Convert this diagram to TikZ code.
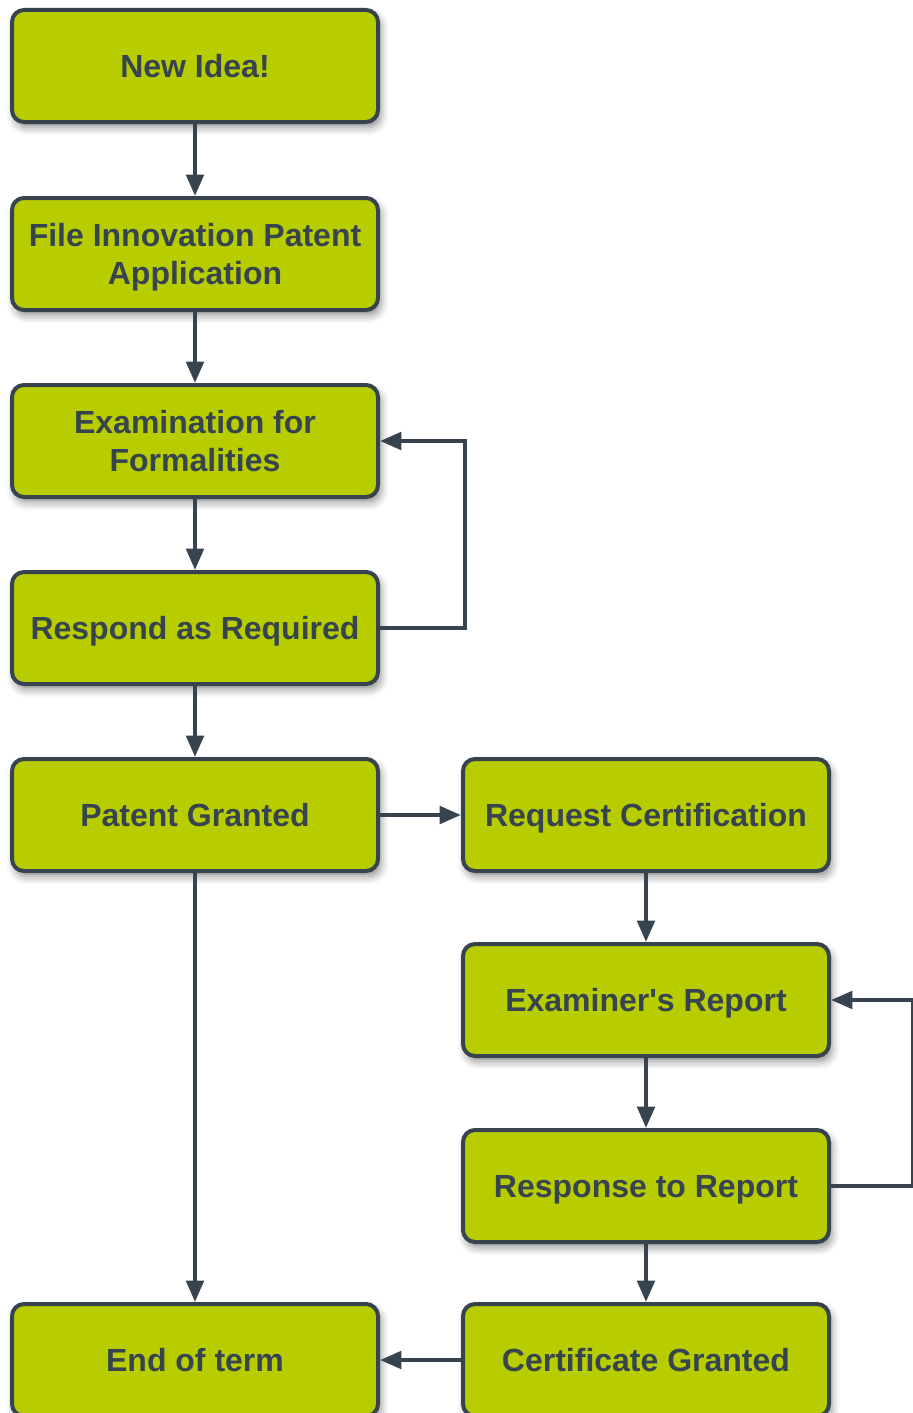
\documentclass[tikz,border=0pt]{standalone}
\usepackage{fontspec}
\setmainfont{Liberation Sans}
\usetikzlibrary{arrows.meta,shadows.blur}

\definecolor{leaf}{HTML}{B7CD00}
\definecolor{slate}{HTML}{37444F}

\tikzset{
  stage/.style={rectangle,rounded corners=9pt,draw=slate,line width=3pt,fill=leaf,
    text=slate,font=\bfseries\fontsize{24}{28}\selectfont,align=center,
    minimum width=274.5pt,minimum height=84pt,inner sep=2pt,
    text height=17.3pt,text depth=0pt,
    blur shadow={shadow xshift=2pt,shadow yshift=-4pt,shadow blur radius=6pt,shadow opacity=45}},
  twoline/.style={text height=45.3pt},
  flow/.style={draw=slate,line width=3pt,-{Triangle[length=16pt,width=13pt]}}
}

\begin{document}
\begin{tikzpicture}[x=0.75pt,y=-0.75pt]

    \clip (0,0) rectangle (913,1413);
    \useasboundingbox (0,0) rectangle (913,1413);

    \node[stage] (idea) at (195,66) {New Idea!};
    \node[stage,twoline] (file) at (195,254) {File Innovation Patent\\Application};
    \node[stage,twoline] (exam) at (195,441) {Examination for\\Formalities};
    \node[stage] (respond) at (195,628) {Respond as Required};
    \node[stage] (granted) at (195,815) {Patent Granted};
    \node[stage] (request) at (646,815) {Request Certification};
    \node[stage] (report) at (646,1000) {Examiner\textquotesingle s Report};
    \node[stage] (response) at (646,1186) {Response to Report};
    \node[stage] (cert) at (646,1360) {Certificate Granted};
    \node[stage] (term) at (195,1360) {End of term};

    \draw[flow] (idea) -- (file);
    \draw[flow] (file) -- (exam);
    \draw[flow] (exam) -- (respond);
    \draw[flow] (respond) -- (granted);
    \draw[flow] (respond.east) -- ++(85,0) |- (exam.east);
    \draw[flow] (granted) -- (request);
    \draw[flow] (granted) -- (term);
    \draw[flow] (request) -- (report);
    \draw[flow] (report) -- (response);
    \draw[flow] (response.east) -- ++(82,0) |- (report.east);
    \draw[flow] (response) -- (cert);
    \draw[flow] (cert) -- (term);

\end{tikzpicture}
\end{document}
